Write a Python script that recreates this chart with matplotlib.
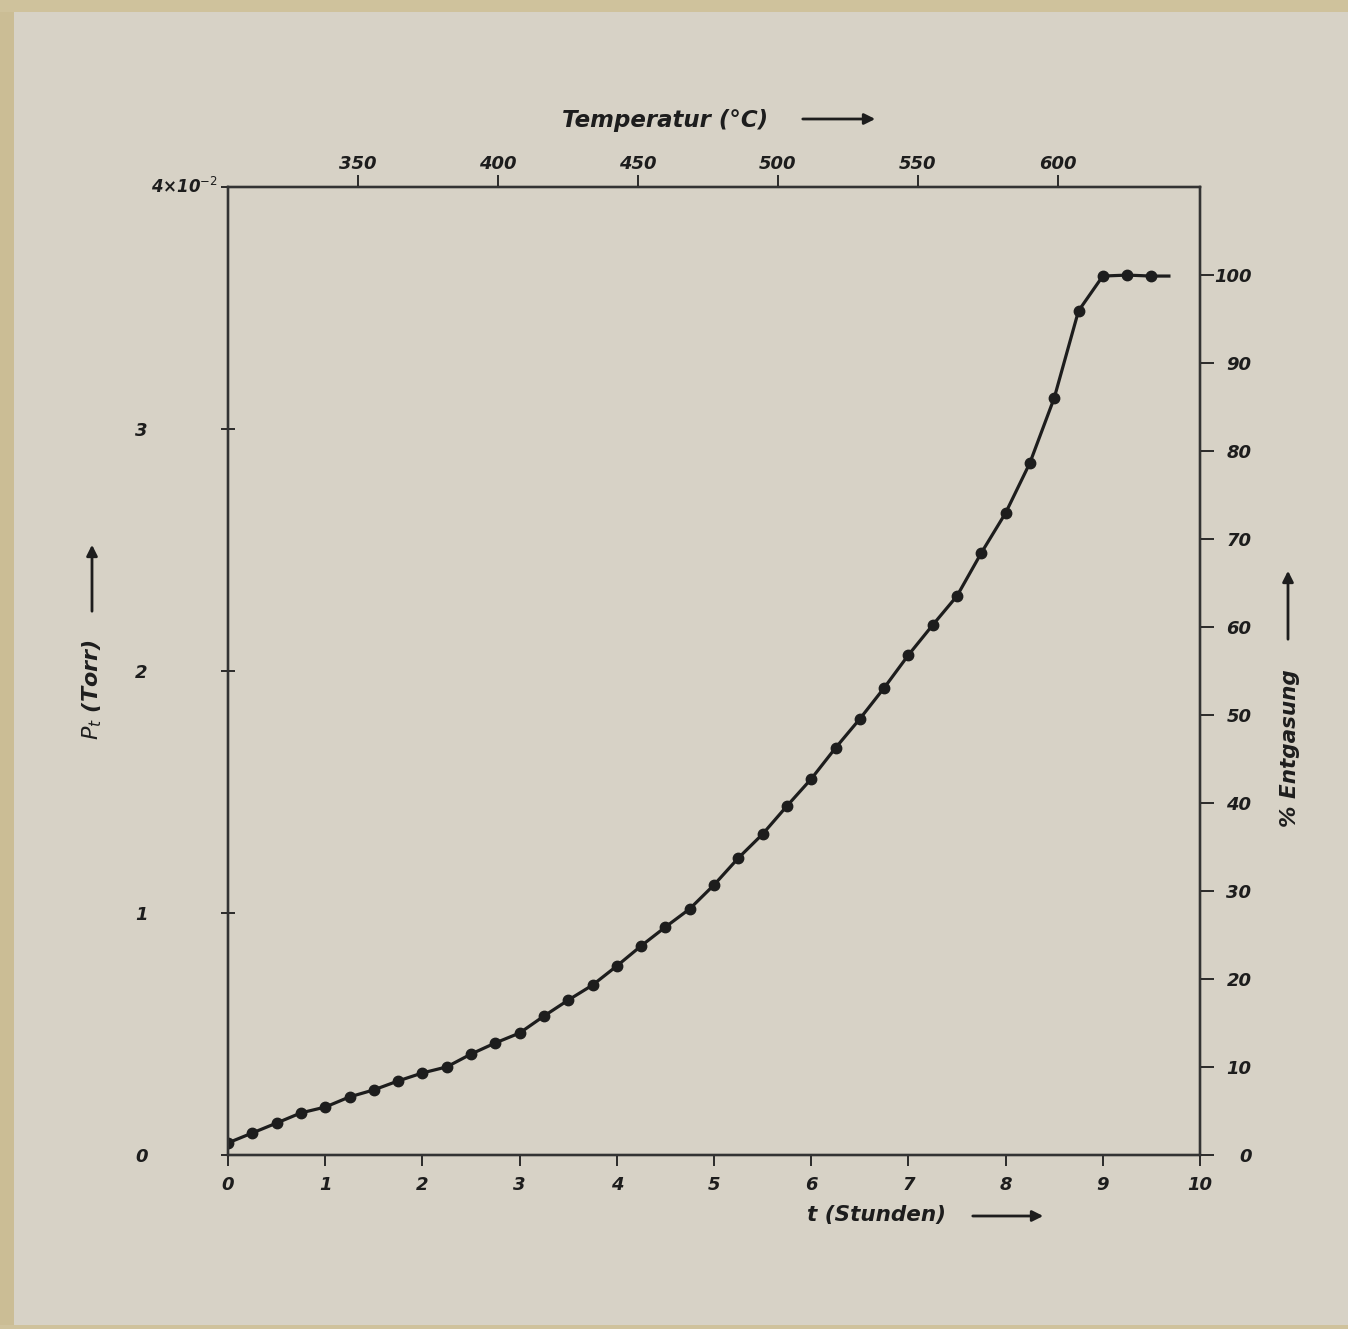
import numpy as np
import matplotlib
matplotlib.use("Agg")
import matplotlib.pyplot as plt
from matplotlib.patches import Rectangle

# data
t_hours = [0, 0.25, 0.5, 0.75, 1.0, 1.25, 1.5, 1.75, 2.0, 2.25, 2.5, 2.75,
           3.0, 3.25, 3.5, 3.75, 4.0, 4.25, 4.5, 4.75, 5.0, 5.25, 5.5, 5.75,
           6.0, 6.25, 6.5, 6.75, 7.0, 7.25, 7.5, 7.75, 8.0, 8.25, 8.5, 8.75,
           9.0, 9.25, 9.5]
p_torr = [0.050, 0.091, 0.132, 0.174, 0.198, 0.240, 0.269, 0.306, 0.339, 0.364,
          0.417, 0.463, 0.504, 0.574, 0.640, 0.702, 0.781, 0.864, 0.942, 1.017,
          1.116, 1.227, 1.326, 1.442, 1.554, 1.682, 1.802, 1.930, 2.066, 2.190,
          2.310, 2.488, 2.653, 2.860, 3.128, 3.488, 3.632, 3.636, 3.632]
line_end_t = 9.68

x_ticks = list(range(0, 11))
p_ticks = [0, 1, 2, 3, 4]
p_ticklabels = ['0', '1', '2', '3', '']
pct_ticks = list(range(0, 101, 10))
temp_ticks = [350, 400, 450, 500, 550, 600]
temp_lim = (303.6, 650.7)
pct_lim = (0, 110.0)

ink = '#1d1d1d'
paper = '#d7d2c6'
fnt = dict(family='DejaVu Sans', style='italic', weight='bold')

fig = plt.figure(figsize=(13.48, 13.29), dpi=100, facecolor=paper)
# tan mounting edges of the scan
fig.add_artist(Rectangle((0, 0), 14/1348, 1, transform=fig.transFigure, color='#cbbd95', lw=0))
fig.add_artist(Rectangle((0, 1-12/1329), 1, 12/1329, transform=fig.transFigure, color='#cfc29c', lw=0))
fig.add_artist(Rectangle((0, 0), 1, 4/1329, transform=fig.transFigure, color='#cfc29c', lw=0))

ax = fig.add_axes([228/1348, 1-1155/1329, 972/1348, 968/1329])
ax.set_facecolor(paper)

ax.plot(t_hours + [line_end_t], p_torr + [p_torr[-1]], color=ink, lw=2.3, zorder=3)
ax.plot(t_hours, p_torr, 'o', color=ink, ms=7.5, zorder=4)

ax.set_xlim(0, 10)
ax.set_ylim(0, 4)
ax.set_xticks(x_ticks)
ax.set_xticklabels([str(v) for v in x_ticks], fontsize=13, **fnt)
ax.set_yticks(p_ticks)
ax.set_yticklabels(p_ticklabels, fontsize=13, **fnt)
ax.tick_params(axis='x', direction='out', length=8, width=1.3, color=ink, pad=7, labelcolor=ink)
ax.tick_params(axis='y', direction='inout', length=10, width=1.3, color=ink, pad=53, labelcolor=ink)
for s in ax.spines.values():
    s.set_color('#333333')
    s.set_linewidth(1.6)

ax.text(-0.01, 4, '4×10$^{-2}$', transform=ax.get_yaxis_transform(), ha='right', va='center',
        fontsize=12, color=ink, **fnt)

# right axis: % Entgasung
ax2 = ax.twinx()
ax2.set_ylim(*pct_lim)
ax2.set_yticks(pct_ticks)
ax2.set_yticklabels([str(v) for v in pct_ticks], fontsize=13, **fnt)
ax2.tick_params(axis='y', direction='out', length=10, width=1.3, color=ink, pad=27, labelcolor=ink)
for lab in ax2.get_yticklabels():
    lab.set_horizontalalignment('right')
for s in ax2.spines.values():
    s.set_color('#333333')
    s.set_linewidth(1.6)

# top axis: temperature
ax3 = ax.twiny()
ax3.set_xlim(*temp_lim)
ax3.set_xticks(temp_ticks)
ax3.set_xticklabels([str(v) for v in temp_ticks], fontsize=13, **fnt)
ax3.tick_params(axis='x', direction='out', length=9, width=1.3, color=ink, pad=1, labelcolor=ink)
for s in ax3.spines.values():
    s.set_color('#333333')
    s.set_linewidth(1.6)

arrow = dict(arrowstyle='-|>', color=ink, lw=2, mutation_scale=16)

def W(x):
    return x / 1348

def H(y):
    return 1 - y / 1329

fig.text(W(665), H(120), 'Temperatur (°C)', ha='center', va='center', fontsize=16.5, color=ink, **fnt)
fig.add_artist(plt.Annotation('', xy=(W(878), H(119)), xytext=(W(800), H(119)),
                              xycoords='figure fraction', arrowprops=arrow))

fig.text(W(877), H(1215), 't (Stunden)', ha='center', va='center', fontsize=15.5, color=ink, **fnt)
fig.add_artist(plt.Annotation('', xy=(W(1046), H(1216)), xytext=(W(970), H(1216)),
                              xycoords='figure fraction', arrowprops=arrow))

fig.text(W(92), H(690), '$P_t$ (Torr)', ha='center', va='center', rotation=90, fontsize=16, color=ink, **fnt)
fig.add_artist(plt.Annotation('', xy=(W(92), H(542)), xytext=(W(92), H(614)),
                              xycoords='figure fraction', arrowprops=arrow))

fig.text(W(1290), H(748), '% Entgasung', ha='center', va='center', rotation=90, fontsize=15.5, color=ink, **fnt)
fig.add_artist(plt.Annotation('', xy=(W(1288), H(568)), xytext=(W(1288), H(642)),
                              xycoords='figure fraction', arrowprops=arrow))

fig.savefig('out.png', dpi=100, facecolor=paper)
